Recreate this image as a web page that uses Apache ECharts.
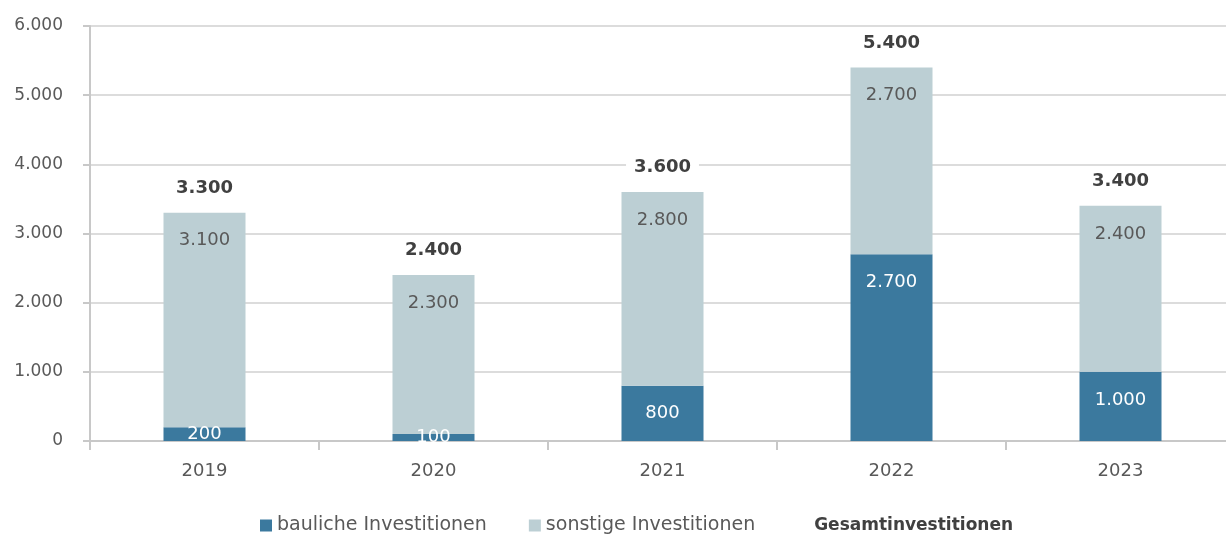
<!DOCTYPE html>
<html>
<head>
<meta charset="utf-8">
<script src="https://cdn.jsdelivr.net/npm/echarts@6/dist/echarts.min.js"></script>
<style>
  html, body { margin: 0; padding: 0; background: #fff; }
  #chart { width: 1226px; height: 535px; }
</style>
</head>
<body>
<div id="chart"></div>
<script>
const years = ["2019", "2020", "2021", "2022", "2023"];
const bauliche = [200, 100, 800, 2700, 1000];
const sonstige = [3100, 2300, 2800, 2700, 2400];
const gesamt = [3300, 2400, 3600, 5400, 3400];

// Tausenderpunkt wie im Original
const fmt = v => String(v).replace(/\B(?=(\d{3})+(?!\d))/g, ".");

// kleine Segmente: Beschriftung mittig statt oben
const withLabelPos = arr => arr.map(v => v < 500 ? { value: v, label: { position: "inside" } } : v);

const FONT = "DejaVu Sans";
const chart = echarts.init(document.getElementById("chart"));

chart.setOption({
  animation: false,
  textStyle: { fontFamily: FONT },
  grid: { left: 90, width: 1145, top: 26, bottom: 94, containLabel: false, outerBoundsMode: "none" },
  legend: {
    top: 511,
    left: 255,
    itemWidth: 12,
    itemHeight: 12,
    itemGap: 42,
    textStyle: { fontFamily: FONT, fontSize: 19, color: "#595959" },
    data: [
      { name: "bauliche Investitionen", icon: "rect" },
      { name: "sonstige Investitionen", icon: "rect" },
      { name: "Gesamtinvestitionen", icon: "none", textStyle: { color: "#404040", fontWeight: "bold", fontSize: 17 } }
    ]
  },
  xAxis: {
    type: "category",
    data: years,
    axisLine: { lineStyle: { color: "#c8c8c8", width: 2 } },
    axisTick: { show: true, length: 9, lineStyle: { color: "#c8c8c8", width: 2 } },
    axisLabel: { fontFamily: FONT, fontSize: 18, color: "#595959", margin: 21 }
  },
  yAxis: {
    type: "value",
    min: 0,
    max: 6000,
    interval: 1000,
    axisLine: { show: true, lineStyle: { color: "#c8c8c8", width: 2 } },
    axisTick: { show: true, length: 7, lineStyle: { color: "#c8c8c8", width: 2 } },
    splitLine: { lineStyle: { color: "#dcdcdc", width: 2 } },
    axisLabel: { fontFamily: FONT, fontSize: 17, color: "#595959", margin: 27, formatter: fmt }
  },
  series: [
    {
      name: "bauliche Investitionen",
      type: "bar",
      stack: "inv",
      barWidth: 82,
      data: withLabelPos(bauliche),
      itemStyle: { color: "#3b799e" },
      label: {
        show: true, position: "insideTop", distance: 19,
        fontFamily: FONT, fontSize: 18, color: "#fff",
        formatter: p => fmt(p.value)
      }
    },
    {
      name: "sonstige Investitionen",
      type: "bar",
      stack: "inv",
      barWidth: 82,
      data: withLabelPos(sonstige),
      itemStyle: { color: "#bccfd4" },
      label: {
        show: true, position: "insideTop", distance: 19,
        fontFamily: FONT, fontSize: 18, color: "#595959",
        formatter: p => fmt(p.value)
      }
    },
    {
      name: "Gesamtinvestitionen",
      type: "line",
      data: gesamt,
      symbol: "rect",
      symbolSize: 1,
      z: 5,
      lineStyle: { width: 0, opacity: 0 },
      itemStyle: { color: "rgba(0,0,0,0)" },
      label: {
        show: true, position: "top", distance: 12,
        fontFamily: FONT, fontSize: 18, fontWeight: "bold", color: "#404040",
        backgroundColor: "#fff", padding: [3, 8],
        formatter: p => fmt(p.value)
      }
    }
  ]
});
</script>
</body>
</html>
